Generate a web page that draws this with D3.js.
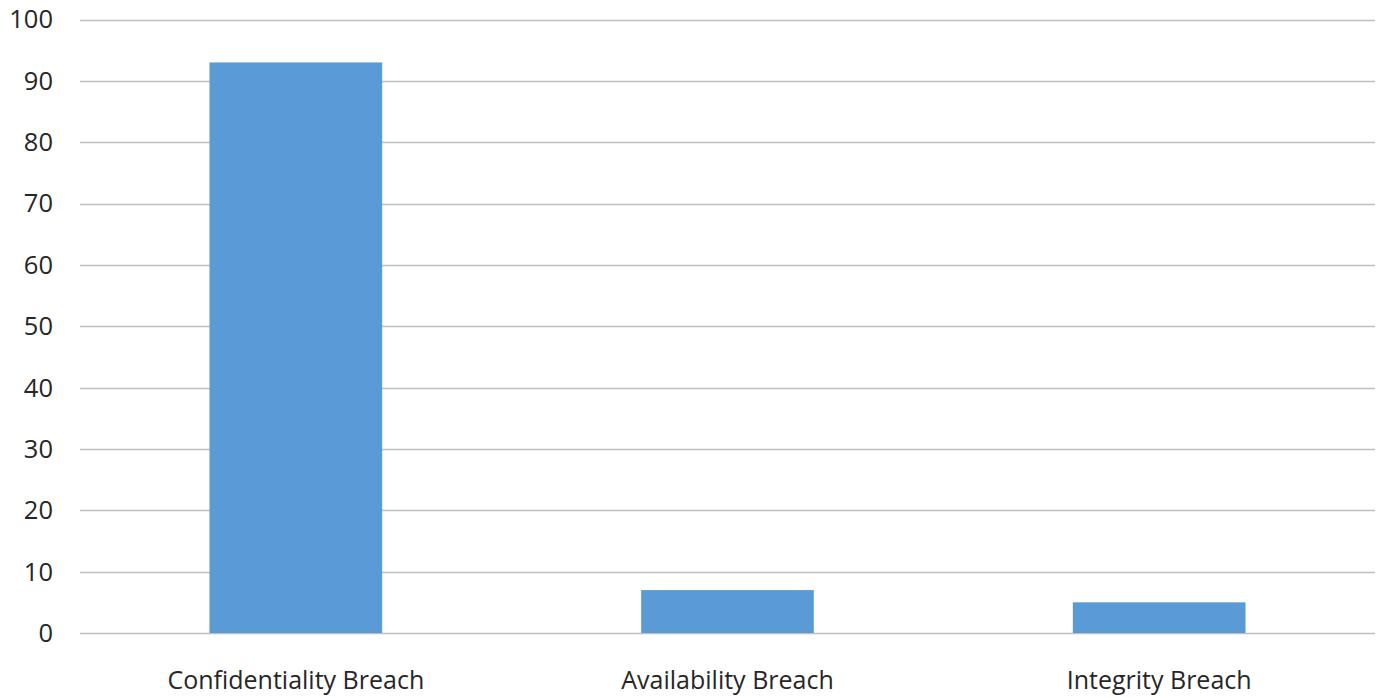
<!DOCTYPE html>
<html><head><meta charset="utf-8">
<script src="https://cdn.jsdelivr.net/npm/d3@7"></script>
<style>body{margin:0;background:#fff;} text{font-family:"Open Sans",sans-serif;fill:#262626;}</style>
</head><body>
<svg id="chart" width="1383" height="698"></svg>
<script>
const categories = ["Confidentiality Breach", "Availability Breach", "Integrity Breach"];
const values = [93, 7, 5];
const yTicks = [0, 10, 20, 30, 40, 50, 60, 70, 80, 90, 100];

const svg = d3.select("#chart");
const x = d3.scaleBand().domain(categories).range([80, 1375]).paddingInner(0.6).paddingOuter(0.3);
const y = d3.scaleLinear().domain([0, 100]).range([633, 19.5]);

svg.append("g").selectAll("line").data(yTicks).join("line")
  .attr("x1", 80).attr("x2", 1375)
  .attr("y1", d => Math.round(y(d)) + 0.5).attr("y2", d => Math.round(y(d)) + 0.5)
  .attr("stroke", "#bfbfbf").attr("stroke-width", 1.3);

svg.append("g").selectAll("text").data(yTicks).join("text")
  .attr("x", 53).attr("y", d => y(d)).attr("dy", "0.35em")
  .attr("text-anchor", "end").attr("font-size", 25.5).text(d => d);

svg.append("g").selectAll("rect").data(values).join("rect")
  .attr("x", (d, i) => x(categories[i])).attr("width", x.bandwidth())
  .attr("y", d => y(d)).attr("height", d => y(0) - y(d))
  .attr("fill", "#5b9bd5");

svg.append("g").selectAll("text").data(categories).join("text")
  .attr("x", d => x(d) + x.bandwidth() / 2).attr("y", 689)
  .attr("text-anchor", "middle").attr("font-size", 25).text(d => d);
</script>
</body></html>
